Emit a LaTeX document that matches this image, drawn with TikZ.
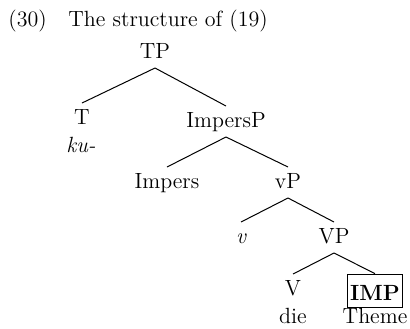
\documentclass[tikz,border=0pt]{standalone}
\begin{document}
\begin{tikzpicture}[x=0.5pt,y=-0.5pt,
  every node/.style={font=\fontsize{11}{13}\selectfont},
  cat/.style={anchor=base, inner sep=0pt, outer ysep=3pt, text height=7.5pt, text depth=2pt},
  word/.style={anchor=base, inner sep=0pt},
  boxed/.style={draw, font=\fontsize{11}{13}\selectfont\bfseries, inner xsep=1.5pt, inner ysep=3.5pt, text height=9.5pt, text depth=0pt},
  branch/.style={line width=0.5pt}]
\useasboundingbox (0,0) rectangle (410,328);

% example number and caption
\node[word, anchor=base west] (num) at (8,26) {(30)};
\node[word, anchor=base west] (cap) at (68,26) {The structure of (19)};

% tree nodes
\node[cat] (TP) at (155,58) {TP};
\node[cat] (T) at (82,124) {T};
\node[word] (ku) at (81,152) {\itshape ku-};
\node[cat] (ImpP) at (226,127) {ImpersP};
\node[cat] (Imp) at (167,188) {Impers};
\node[cat] (vP) at (288,188) {vP};
\node[cat] (v) at (241,243) {\itshape v};
\node[cat] (VP) at (334,243) {VP};
\node[cat] (V) at (293,295) {V};
\node[boxed] (IMP) at (375,290.5) {IMP};
\node[word] (die) at (293,323) {die};
\node[word] (theme) at (375,323) {Theme};

% branches
\draw[branch] (TP.south) -- (T.north);
\draw[branch] (TP.south) -- (ImpP.north);
\draw[branch] (ImpP.south) -- (Imp.north);
\draw[branch] (ImpP.south) -- (vP.north);
\draw[branch] (vP.south) -- (v.north);
\draw[branch] (vP.south) -- (VP.north);
\draw[branch] (VP.south) -- (V.north);
\draw[branch] (VP.south) -- (IMP.north);
\end{tikzpicture}
\end{document}
